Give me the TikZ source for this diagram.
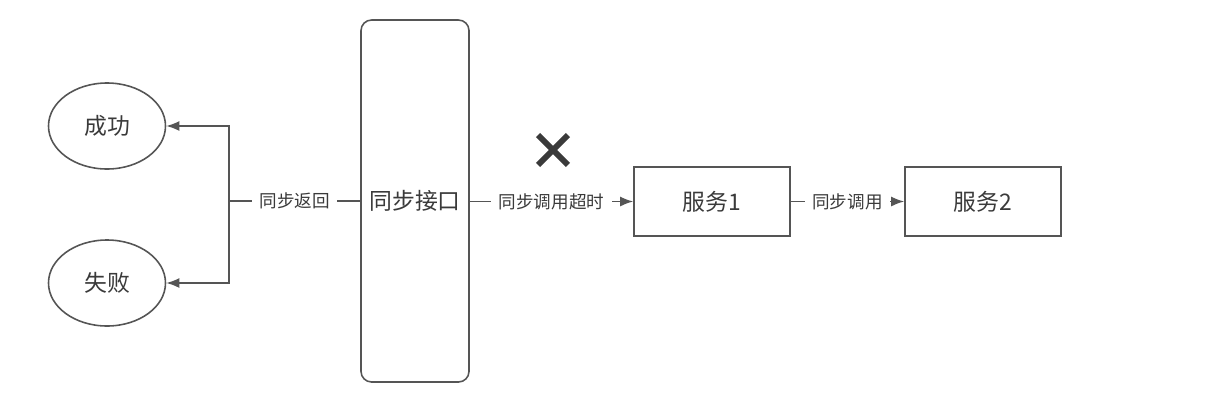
\documentclass[tikz,border=0pt]{standalone}
\usepackage{fontspec}
\setmainfont{Noto Sans CJK SC}
\usetikzlibrary{arrows.meta, shapes.geometric, shapes.misc}

\definecolor{linegray}{HTML}{555555}
\definecolor{textgray}{HTML}{3A3A3A}

\tikzset{
    result/.style={ellipse, draw=linegray, line width=0.9pt, minimum width=2.34cm, minimum height=1.72cm, text=textgray, font=\fontsize{13}{15}\selectfont},
    service/.style={rectangle, draw=linegray, line width=0.9pt, minimum width=3.12cm, minimum height=1.38cm, text=textgray, font=\fontsize{13}{15}\selectfont},
    api/.style={rectangle, rounded corners=6pt, draw=linegray, line width=0.9pt, minimum width=2.16cm, minimum height=7.24cm, text=textgray, font=\fontsize{13}{15}\selectfont},
    link/.style={draw=linegray, line width=0.9pt},
    call/.style={link, -{Latex[length=2.6mm, width=2mm]}},
    tag/.style={fill=white, inner sep=0.15cm, text=textgray, font=\fontsize{10}{12}\selectfont},
}

\begin{document}
\begin{tikzpicture}
    \useasboundingbox (0,0) rectangle (24.56,-8.08);

    \node[result] (succ) at (2.14,-2.52) {成功};
    \node[result] (fail) at (2.14,-5.66) {失败};

    \node[api] (iface) at (8.30,-4.02) {同步接口};

    \node[service] (srv1) at (14.24,-4.03) {服务1};
    \node[service] (srv2) at (19.66,-4.03) {服务2};

    \coordinate (split) at (4.58,-4.02);

    \node[cross out, draw=textgray, line width=3.4pt, minimum size=0.48cm, inner sep=0pt] (timeout) at (11.06,-3.00) {};

    \draw[link] (iface.west) -- node[tag] {同步返回} (split);
    \draw[call] (split) |- (succ.east);
    \draw[call] (split) |- (fail.east);

    \draw[call] (iface.east |- srv1.west) -- node[tag] {同步调用超时} (srv1.west);
    \draw[call] (srv1.east) -- node[tag] {同步调用} (srv2.west);

\end{tikzpicture}
\end{document}
